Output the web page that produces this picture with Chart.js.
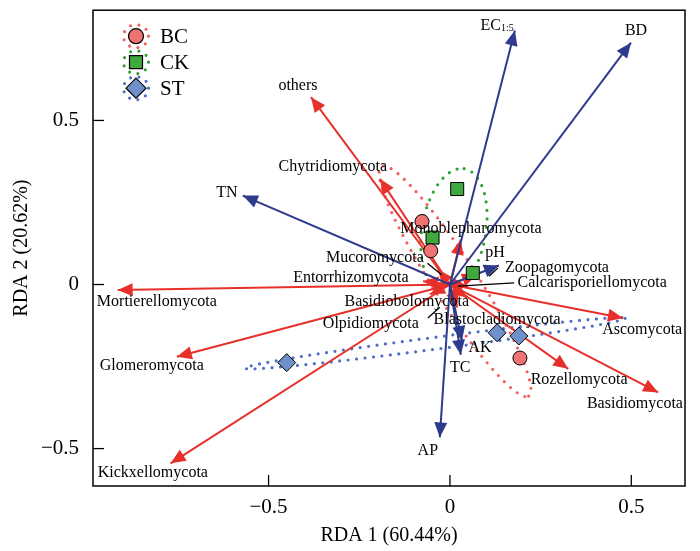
<!DOCTYPE html>
<html><head><meta charset="utf-8">
<script src="https://cdn.jsdelivr.net/npm/chart.js@4.4.1/dist/chart.umd.min.js"></script>
<style>html,body{margin:0;padding:0;background:#fff}#wrap{width:700px;height:551px;position:relative}</style>
</head><body><div id="wrap"><canvas id="c"></canvas></div>
<script>
// ---- data ----
const groupNames = ['BC', 'CK', 'ST'];
const bcX = [-0.077, -0.053, 0.193];
const bcY = [0.192, 0.103, -0.224];
const ckX = [0.020, -0.048, 0.063];
const ckY = [0.291, 0.143, 0.035];
const stX = [-0.450, 0.130, 0.190];
const stY = [-0.238, -0.147, -0.157];

// group ellipses: centre and two conjugate semi-axis vectors (data units)
const ellipseCX = [0.014, 0.011, -0.041];
const ellipseCY = [0.010, 0.165, -0.179];
const ellipseUX = [0.203, 0.028, 0.524];
const ellipseUY = [-0.350, 0.188, 0.076];
const ellipseVX = [0.051, 0.087, 0.002];
const ellipseVY = [0.036, -0.015, -0.018];

const envNames = ['EC', 'BD', 'TN', 'pH', 'AK', 'TC', 'AP'];
const envSub = ['1:5', '', '', '', '', '', ''];
const envX = [0.179, 0.499, -0.571, 0.135, 0.033, 0.030, -0.028];
const envY = [0.774, 0.737, 0.271, 0.058, -0.172, -0.214, -0.466];
const envLabelX = [0.130, 0.513, -0.615, 0.124, 0.083, 0.028, -0.061];
const envLabelY = [0.789, 0.774, 0.280, 0.098, -0.193, -0.253, -0.508];

const taxaNames = ['others', 'Chytridiomycota', 'Monoblepharomycota', 'Mucoromycota', 'Zoopagomycota',
  'Calcarisporiellomycota', 'Entorrhizomycota', 'Mortierellomycota', 'Basidiobolomycota', 'Olpidiomycota',
  'Blastocladiomycota', 'Glomeromycota', 'Kickxellomycota', 'Ascomycota', 'Rozellomycota', 'Basidiomycota'];
const taxaX = [-0.383, -0.193, 0.030, -0.033, 0.075, 0.050, -0.074, -0.916, 0.020, -0.055, 0.047, -0.753, -0.770, 0.477, 0.326, 0.574];
const taxaY = [0.571, 0.322, 0.137, 0.046, 0.030, -0.005, 0.010, -0.017, -0.070, -0.030, -0.040, -0.220, -0.545, -0.102, -0.257, -0.329];
const taxaLabelX = [-0.419, -0.323, 0.058, -0.207, 0.295, 0.392, -0.273, -0.808, -0.119, -0.218, 0.130, -0.822, -0.819, 0.530, 0.356, 0.510];
const taxaLabelY = [0.607, 0.358, 0.171, 0.080, 0.052, 0.004, 0.019, -0.054, -0.054, -0.120, -0.108, -0.248, -0.575, -0.138, -0.290, -0.363];

// leader lines [x1, y1, x2, y2] in data units
const leaderX1 = [-0.062, 0.132, 0.177, -0.061];
const leaderY1 = [0.065, 0.050, 0.005, -0.102];
const leaderX2 = [-0.023, 0.108, 0.022, -0.028];
const leaderY2 = [0.030, 0.025, -0.005, -0.069];

const xTicks = [-0.5, 0, 0.5];
const yTicks = [-0.5, 0, 0.5];
const xTitle = 'RDA 1 (60.44%)';
const yTitle = 'RDA 2 (20.62%)';

// ---- styles ----
const FONT = "'Liberation Serif', 'Times New Roman', serif";
const RED = '#e8302a';
const BLUE = '#2f3a8c';
const groupFill = ['#f07373', '#3fa83f', '#7090cc'];
const dotColor = ['#f06262', '#2ea42e', '#4f6fc6'];
const groupStyle = ['circle', 'rect', 'rectRot'];
const groupRadius = [7, 9.2, 9];

const zip = (xs, ys) => xs.map((x, i) => ({x, y: ys[i]}));
const groupX = [bcX, ckX, stX];
const groupY = [bcY, ckY, stY];

const datasets = [];
groupNames.forEach((g, i) => {
  datasets.push({
    label: g, type: 'scatter', data: zip(groupX[i], groupY[i]),
    pointStyle: groupStyle[i], pointRadius: groupRadius[i], pointBackgroundColor: groupFill[i],
    pointBorderColor: '#000', pointBorderWidth: 1, order: 0, showLine: false
  });
});
taxaNames.forEach((n, i) => {
  datasets.push({
    label: n, type: 'line', arrow: true, data: [{x: 0, y: 0}, {x: taxaX[i], y: taxaY[i]}],
    borderColor: RED, backgroundColor: RED, borderWidth: 2, pointRadius: 0, fill: false, tension: 0, order: 2
  });
});
envNames.forEach((n, i) => {
  datasets.push({
    label: n + envSub[i], type: 'line', arrow: true, data: [{x: 0, y: 0}, {x: envX[i], y: envY[i]}],
    borderColor: BLUE, backgroundColor: BLUE, borderWidth: 2, pointRadius: 0, fill: false, tension: 0, order: 1
  });
});

function dotPath(ctx, pts, color) {
  ctx.save();
  ctx.beginPath();
  pts.forEach((p, i) => i ? ctx.lineTo(p[0], p[1]) : ctx.moveTo(p[0], p[1]));
  ctx.closePath();
  ctx.setLineDash([0, 8.5]);
  ctx.lineCap = 'round';
  ctx.lineWidth = 3.2;
  ctx.strokeStyle = color;
  ctx.stroke();
  ctx.restore();
}

const biplot = {
  id: 'biplot',
  beforeDatasetsDraw(chart) {
    const {ctx, scales: {x, y}} = chart;
    for (let g = 0; g < groupNames.length; g++) {
      const pts = [];
      for (let k = 0; k < 360; k++) {
        const t = k / 360 * Math.PI * 2;
        const dx = ellipseCX[g] + ellipseUX[g] * Math.cos(t) + ellipseVX[g] * Math.sin(t);
        const dy = ellipseCY[g] + ellipseUY[g] * Math.cos(t) + ellipseVY[g] * Math.sin(t);
        pts.push([x.getPixelForValue(dx), y.getPixelForValue(dy)]);
      }
      dotPath(ctx, pts, dotColor[g]);
    }
  },
  afterDatasetDraw(chart, args) {
    const ds = chart.data.datasets[args.index];
    if (!ds.arrow) return;
    const {ctx, scales: {x, y}} = chart;
    const x0 = x.getPixelForValue(ds.data[0].x), y0 = y.getPixelForValue(ds.data[0].y);
    const x1 = x.getPixelForValue(ds.data[1].x), y1 = y.getPixelForValue(ds.data[1].y);
    const len = Math.hypot(x1 - x0, y1 - y0) || 1;
    const ux = (x1 - x0) / len, uy = (y1 - y0) / len;
    const L = 15, W = 6.5;
    const bx = x1 - ux * L, by = y1 - uy * L;
    ctx.save();
    ctx.beginPath();
    ctx.moveTo(x1, y1);
    ctx.lineTo(bx - uy * W, by + ux * W);
    ctx.lineTo(bx + uy * W, by - ux * W);
    ctx.closePath();
    ctx.fillStyle = ds.borderColor;
    ctx.fill();
    ctx.restore();
  },
  afterDraw(chart) {
    const {ctx, chartArea: a, scales: {x, y}} = chart;
    ctx.save();
    // frame
    ctx.strokeStyle = '#000';
    ctx.lineWidth = 1.5;
    ctx.strokeRect(a.left, a.top, a.right - a.left, a.bottom - a.top);
    // inward ticks
    ctx.lineWidth = 1.3;
    xTicks.forEach(v => {
      const p = x.getPixelForValue(v);
      ctx.beginPath(); ctx.moveTo(p, a.bottom); ctx.lineTo(p, a.bottom - 11); ctx.stroke();
    });
    yTicks.forEach(v => {
      const p = y.getPixelForValue(v);
      ctx.beginPath(); ctx.moveTo(a.left, p); ctx.lineTo(a.left + 11, p); ctx.stroke();
    });
    // leader lines
    ctx.lineWidth = 1.3;
    leaderX1.forEach((v, i) => {
      ctx.beginPath();
      ctx.moveTo(x.getPixelForValue(v), y.getPixelForValue(leaderY1[i]));
      ctx.lineTo(x.getPixelForValue(leaderX2[i]), y.getPixelForValue(leaderY2[i]));
      ctx.stroke();
    });
    // labels
    ctx.fillStyle = '#000';
    ctx.textBaseline = 'middle';
    ctx.font = '16px ' + FONT;
    ctx.textAlign = 'center';
    taxaNames.forEach((n, i) => {
      ctx.fillText(n, x.getPixelForValue(taxaLabelX[i]), y.getPixelForValue(taxaLabelY[i]));
    });
    envNames.forEach((n, i) => {
      const cx = x.getPixelForValue(envLabelX[i]), cy = y.getPixelForValue(envLabelY[i]);
      if (envSub[i]) {
        ctx.font = '16px ' + FONT;
        const w1 = ctx.measureText(n).width;
        ctx.font = '10px ' + FONT;
        const w2 = ctx.measureText(envSub[i]).width;
        const left = cx - (w1 + w2) / 2;
        ctx.textAlign = 'left';
        ctx.font = '16px ' + FONT;
        ctx.fillText(n, left, cy);
        ctx.font = '10px ' + FONT;
        ctx.fillText(envSub[i], left + w1, cy + 3);
        ctx.textAlign = 'center';
        ctx.font = '16px ' + FONT;
      } else {
        ctx.fillText(n, cx, cy);
      }
    });
    // legend
    const lx = a.left + 43, ly0 = a.top + 26, step = 26;
    groupNames.forEach((g, i) => {
      const cy = ly0 + i * step;
      const ring = [];
      for (let k = 0; k < 60; k++) {
        const t = k / 60 * Math.PI * 2;
        ring.push([lx + 12.5 * Math.cos(t), cy + 11.5 * Math.sin(t)]);
      }
      dotPath(ctx, ring, dotColor[i]);
      ctx.beginPath();
      if (i === 0) ctx.arc(lx, cy, 7.5, 0, Math.PI * 2);
      else if (i === 1) ctx.rect(lx - 6.5, cy - 6.5, 13, 13);
      else { ctx.moveTo(lx, cy - 10); ctx.lineTo(lx + 10, cy); ctx.lineTo(lx, cy + 10); ctx.lineTo(lx - 10, cy); ctx.closePath(); }
      ctx.fillStyle = groupFill[i];
      ctx.fill();
      ctx.lineWidth = 1.2;
      ctx.strokeStyle = '#000';
      ctx.stroke();
      ctx.fillStyle = '#000';
      ctx.font = '21px ' + FONT;
      ctx.textAlign = 'left';
      ctx.fillText(g, lx + 24, cy + 1);
    });
    ctx.restore();
  }
};

const fmt = v => (v < 0 ? '\u2212' + Math.abs(v) : String(v));

new Chart(document.getElementById('c'), {
  type: 'scatter',
  data: {datasets},
  options: {
    responsive: true, maintainAspectRatio: false, animation: false, devicePixelRatio: 1,
    events: [],
    layout: {padding: {left: 0, right: 15, top: 7, bottom: 0}},
    plugins: {legend: {display: false}, tooltip: {enabled: false}},
    scales: {
      x: {
        type: 'linear', min: -0.984, max: 0.648,
        afterBuildTicks: s => { s.ticks = xTicks.map(v => ({value: v})); },
        afterFit: s => { s.height = 65; s.paddingLeft = 0; s.paddingRight = 0; },
        grid: {display: false, drawTicks: false}, border: {display: false},
        ticks: {callback: fmt, font: {family: FONT, size: 21}, color: '#000', padding: 9, maxRotation: 0},
        title: {display: true, text: xTitle, font: {family: FONT, size: 20}, color: '#000', padding: {top: 0, bottom: 3}}
      },
      y: {
        type: 'linear', min: -0.614, max: 0.836,
        afterBuildTicks: s => { s.ticks = yTicks.map(v => ({value: v})); },
        afterFit: s => { s.width = 93; s.paddingTop = 0; s.paddingBottom = 0; },
        grid: {display: false, drawTicks: false}, border: {display: false},
        ticks: {callback: fmt, font: {family: FONT, size: 21}, color: '#000', padding: 14},
        title: {display: true, text: yTitle, font: {family: FONT, size: 20}, color: '#000', padding: {top: 10, bottom: 0}}
      }
    }
  },
  plugins: [biplot]
});
</script>
</body></html>
